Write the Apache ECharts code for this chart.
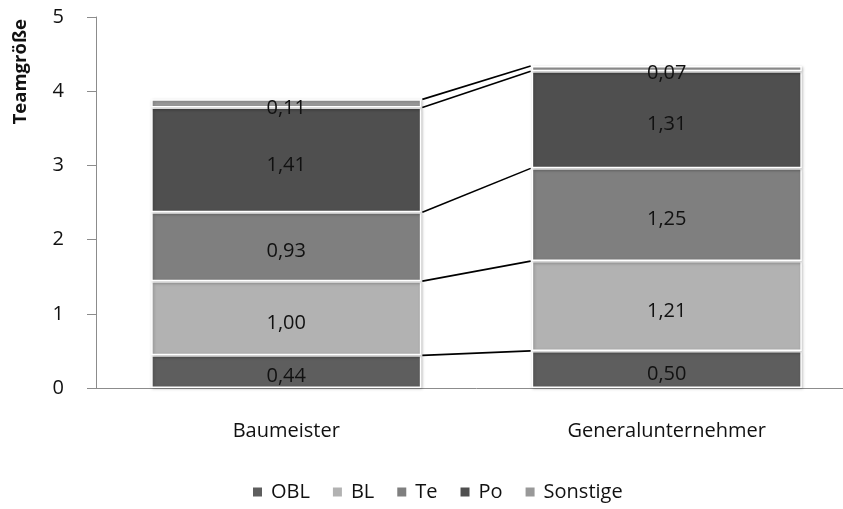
<!DOCTYPE html>
<html><head><meta charset="utf-8">
<script src="https://cdn.jsdelivr.net/npm/echarts@6/dist/echarts.min.js"></script>
<style>html,body{margin:0;padding:0;background:#fff;overflow:hidden}#c{width:857px;height:509px}</style>
</head><body><div id="c"></div>
<script>
const categories = ['Baumeister', 'Generalunternehmer'];
const seriesNames = ['OBL', 'BL', 'Te', 'Po', 'Sonstige'];
const OBL = [0.44, 0.50];
const BL = [1.00, 1.21];
const Te = [0.93, 1.25];
const Po = [1.41, 1.31];
const Sonstige = [0.11, 0.07];
const yTicks = [0, 1, 2, 3, 4, 5];

const seriesValues = [OBL, BL, Te, Po, Sonstige];
const colors = ['#5e5e5e', '#b2b2b2', '#7f7f7f', '#4f4f4f', '#999999'];
const FONT = 'Open Sans';
const FS = 20;
const BAR_FRAC = 0.71;

// cumulative tops for connector lines
const connectors = [];
let c0 = 0, c1 = 0;
seriesValues.forEach(arr => { c0 += arr[0]; c1 += arr[1]; connectors.push([c0, c1]); });

const chart = echarts.init(document.getElementById('c'));
const barSeries = seriesNames.map((name, i) => ({
  name: name,
  type: 'bar',
  stack: 'total',
  barWidth: (BAR_FRAC * 100) + '%',
  data: seriesValues[i],
  itemStyle: { color: colors[i], borderColor: '#ffffff', borderWidth: 1.5,
    shadowColor: 'rgba(0,0,0,0.25)', shadowBlur: 3, shadowOffsetX: 1, shadowOffsetY: 1 },
  label: {
    show: true, position: 'inside', offset: [0, 5], color: '#111', fontFamily: FONT, fontSize: FS,
    formatter: p => p.value.toFixed(2).replace('.', ',')
  },
  emphasis: { disabled: true }
}));

chart.setOption({
  animation: false,
  color: colors,
  grid: { left: 96, right: 0, top: 17, bottom: 121, containLabel: false },
  legend: {
    bottom: 2, left: 246, itemWidth: 11, itemHeight: 11, itemGap: 21, icon: 'rect',
    textStyle: { fontFamily: FONT, fontSize: FS, color: '#111', padding: [0, 0, 0, 3] },
    data: seriesNames
  },
  xAxis: {
    type: 'category', data: categories,
    axisLine: { lineStyle: { color: '#8c8c8c', width: 1 } },
    axisTick: { show: false },
    axisLabel: { fontFamily: FONT, fontSize: FS, color: '#111', margin: 33 }
  },
  yAxis: {
    type: 'value', min: 0, max: 5, interval: 1,
    axisLine: { show: true, lineStyle: { color: '#8c8c8c', width: 1 } },
    axisTick: { show: true, inside: false, length: 9, lineStyle: { color: '#8c8c8c' } },
    splitLine: { show: false },
    axisLabel: { fontFamily: FONT, fontSize: FS, color: '#111', margin: 32,
      formatter: v => yTicks.includes(v) ? String(v) : '' }
  },
  graphic: [{
    type: 'text', left: 11, top: 19, rotation: Math.PI / 2,
    style: { text: 'Teamgröße', font: 'bold 18.5px ' + FONT, fill: '#111' }
  }],
  series: barSeries.concat([{
    type: 'custom',
    name: 'connectors',
    silent: true,
    z: 5,
    data: connectors,
    encode: { y: [0, 1] },
    renderItem: function (params, api) {
      const v0 = api.value(0), v1 = api.value(1);
      const band = api.size([1, 0])[0];
      const half = band * BAR_FRAC / 2;
      const p0 = api.coord([0, v0]);
      const p1 = api.coord([1, v1]);
      return {
        type: 'line',
        shape: { x1: p0[0] + half + 1, y1: p0[1], x2: p1[0] - half - 1, y2: p1[1] },
        style: { stroke: '#000', lineWidth: 1.6 }
      };
    }
  }])
});
</script>
</body></html>
